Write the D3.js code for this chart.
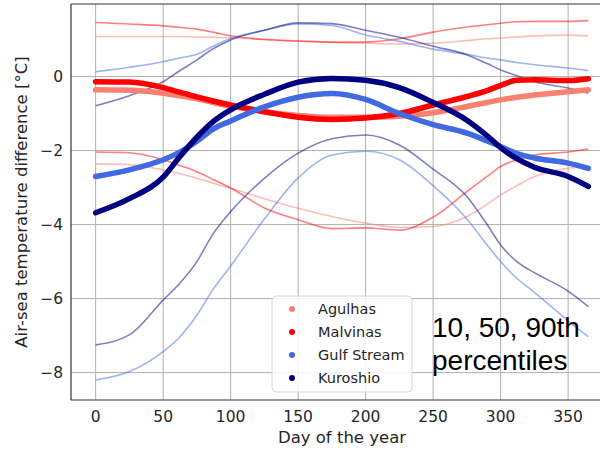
<!DOCTYPE html>
<html>
<head>
<meta charset="utf-8">
<script src="https://cdn.jsdelivr.net/npm/d3@7"></script>
<style>
  html, body { margin: 0; padding: 0; background: #fff; }
  svg { display: block; }
</style>
</head>
<body>
<svg id="chart" width="600" height="450"></svg>
<script>
// Day of the year at which each series is sampled
const days = [0, 25, 50, 62, 75, 87, 100, 125, 150, 175, 200, 225, 250, 275, 290, 300, 312, 325, 350, 365];

// Air-sea temperature difference [°C]: 10th, 50th and 90th percentiles per region
const agulhasP10 = [-2.36, -2.38, -2.52, -2.62, -2.75, -2.88, -3.02, -3.30, -3.56, -3.78, -3.96, -4.08, -4.05, -3.78, -3.45, -3.20, -2.95, -2.70, -2.48, -2.43];
const agulhasP50 = [-0.36, -0.37, -0.45, -0.52, -0.60, -0.70, -0.80, -0.95, -1.05, -1.10, -1.10, -1.07, -0.98, -0.81, -0.70, -0.63, -0.56, -0.50, -0.41, -0.36];
const agulhasP90 = [1.08, 1.08, 1.08, 1.08, 1.07, 1.06, 1.05, 1.00, 0.96, 0.92, 0.90, 0.88, 0.90, 0.97, 1.02, 1.04, 1.07, 1.10, 1.12, 1.10];

const malvinasP10 = [-2.04, -2.06, -2.25, -2.40, -2.57, -2.78, -3.01, -3.55, -3.87, -4.11, -4.09, -4.15, -3.80, -3.11, -2.70, -2.43, -2.25, -2.12, -2.04, -1.96];
const malvinasP50 = [-0.14, -0.15, -0.30, -0.42, -0.55, -0.66, -0.77, -0.95, -1.10, -1.16, -1.12, -1.00, -0.77, -0.54, -0.38, -0.24, -0.10, -0.09, -0.11, -0.06];
const malvinasP90 = [1.46, 1.42, 1.37, 1.33, 1.28, 1.20, 1.10, 1.00, 0.96, 0.93, 0.93, 1.02, 1.20, 1.34, 1.40, 1.44, 1.48, 1.49, 1.49, 1.51];

const gulfP10 = [-8.20, -7.97, -7.43, -7.05, -6.45, -5.75, -5.12, -3.85, -2.74, -2.12, -2.02, -2.25, -2.95, -3.85, -4.55, -5.00, -5.45, -5.83, -6.60, -7.03];
const gulfP50 = [-2.70, -2.52, -2.25, -2.05, -1.75, -1.42, -1.20, -0.82, -0.56, -0.46, -0.62, -1.00, -1.30, -1.53, -1.74, -1.89, -2.08, -2.20, -2.34, -2.48];
const gulfP90 = [0.13, 0.25, 0.40, 0.50, 0.60, 0.82, 1.03, 1.25, 1.42, 1.38, 1.12, 0.95, 0.74, 0.60, 0.50, 0.45, 0.38, 0.32, 0.23, 0.16];

const kuroshioP10 = [-7.25, -6.98, -6.04, -5.60, -5.00, -4.25, -3.65, -2.75, -2.07, -1.68, -1.58, -1.85, -2.50, -3.24, -4.00, -4.55, -5.00, -5.30, -5.80, -6.22];
const kuroshioP50 = [-3.68, -3.30, -2.72, -2.18, -1.64, -1.22, -0.90, -0.48, -0.15, -0.05, -0.10, -0.30, -0.70, -1.18, -1.60, -1.92, -2.22, -2.45, -2.70, -2.97];
const kuroshioP90 = [-0.79, -0.52, -0.14, 0.15, 0.45, 0.75, 0.99, 1.25, 1.45, 1.43, 1.25, 1.06, 0.82, 0.59, 0.35, 0.18, 0.02, -0.14, -0.31, -0.45];

const regions = ["Agulhas", "Malvinas", "Gulf Stream", "Kuroshio"];
const regionColors = ["salmon", "red", "royalblue", "navy"];
const medians = [agulhasP50, malvinasP50, gulfP50, kuroshioP50];
const lowers = [agulhasP10, malvinasP10, gulfP10, kuroshioP10];
const uppers = [agulhasP90, malvinasP90, gulfP90, kuroshioP90];

const xTicks = [0, 50, 100, 150, 200, 250, 300, 350];
const yTicks = [-8, -6, -4, -2, 0];

const svg = d3.select("#chart");
const plotLeft = 71, plotRight = 613, plotTop = 4, plotBottom = 400;

const x = d3.scaleLinear().domain([-18.25, 383.25]).range([plotLeft, plotRight]);
const y = d3.scaleLinear().domain([-8.74, 1.96]).range([plotBottom, plotTop]);

// Grid
const grid = svg.append("g");
grid.selectAll(".gx").data(xTicks).join("line")
  .attr("x1", d => x(d)).attr("x2", d => x(d))
  .attr("y1", plotTop).attr("y2", plotBottom)
  .attr("stroke", "#b0b0b0").attr("stroke-width", 1);
grid.selectAll(".gy").data(yTicks).join("line")
  .attr("x1", plotLeft).attr("x2", plotRight)
  .attr("y1", d => y(d)).attr("y2", d => y(d))
  .attr("stroke", "#b0b0b0").attr("stroke-width", 1);

const line = d3.line()
  .x((d, i) => x(days[i]))
  .y(d => y(d))
  .curve(d3.curveMonotoneX);

// Percentile envelopes (thin, translucent)
const thin = svg.append("g");
regions.forEach((r, k) => {
  [lowers[k], uppers[k]].forEach(series => {
    thin.append("path")
      .attr("d", line(series))
      .attr("fill", "none")
      .attr("stroke", regionColors[k])
      .attr("stroke-opacity", 0.5)
      .attr("stroke-width", 1.6);
  });
});

// Medians (thick)
const thick = svg.append("g");
regions.forEach((r, k) => {
  thick.append("path")
    .attr("d", line(medians[k]))
    .attr("fill", "none")
    .attr("stroke", regionColors[k])
    .attr("stroke-width", 5.5)
    .attr("stroke-linecap", "round")
    .attr("stroke-linejoin", "round");
});

// Spines
svg.append("line").attr("x1", plotLeft).attr("x2", plotLeft).attr("y1", plotTop).attr("y2", plotBottom)
  .attr("stroke", "#333").attr("stroke-width", 1.2);
svg.append("line").attr("x1", plotLeft).attr("x2", plotRight).attr("y1", plotBottom).attr("y2", plotBottom)
  .attr("stroke", "#333").attr("stroke-width", 1.2);
svg.append("line").attr("x1", plotLeft).attr("x2", plotRight).attr("y1", plotTop).attr("y2", plotTop)
  .attr("stroke", "#333").attr("stroke-width", 1.2);

// Tick labels
const tickFont = "DejaVu Sans, sans-serif";
svg.append("g").selectAll("text").data(xTicks).join("text")
  .attr("x", d => x(d)).attr("y", 422)
  .attr("text-anchor", "middle")
  .attr("font-family", tickFont).attr("font-size", 15.5).attr("fill", "#262626")
  .text(d => d);
svg.append("g").selectAll("text").data(yTicks).join("text")
  .attr("x", 63).attr("y", d => y(d))
  .attr("dy", "0.36em")
  .attr("text-anchor", "end")
  .attr("font-family", tickFont).attr("font-size", 15.5).attr("fill", "#262626")
  .text(d => d === 0 ? "0" : "\u2212" + Math.abs(d));

// Axis labels
svg.append("text")
  .attr("x", (plotLeft + plotRight) / 2).attr("y", 443)
  .attr("text-anchor", "middle")
  .attr("font-family", tickFont).attr("font-size", 16.5).attr("fill", "#262626")
  .text("Day of the year");
svg.append("text")
  .attr("transform", `translate(27, ${(plotTop + plotBottom) / 2}) rotate(-90)`)
  .attr("text-anchor", "middle")
  .attr("font-family", tickFont).attr("font-size", 16.5).attr("fill", "#262626")
  .text("Air-sea temperature difference [°C]");

// Legend
const lg = svg.append("g");
lg.append("rect")
  .attr("x", 272).attr("y", 296).attr("width", 140).attr("height", 96).attr("rx", 4)
  .attr("fill", "white").attr("fill-opacity", 0.85)
  .attr("stroke", "#d6d6d6").attr("stroke-width", 1);
regions.forEach((r, k) => {
  const cy = 309 + k * 23;
  lg.append("circle").attr("cx", 292).attr("cy", cy).attr("r", 3)
    .attr("fill", regionColors[k]);
  lg.append("text").attr("x", 318).attr("y", cy).attr("dy", "0.36em")
    .attr("font-family", tickFont).attr("font-size", 14.5).attr("fill", "#262626")
    .text(r);
});

// Annotation
const note = svg.append("text")
  .attr("font-family", "Liberation Sans, Arial, sans-serif")
  .attr("font-size", 28).attr("fill", "#000");
note.append("tspan").attr("x", 432).attr("y", 337).text("10, 50, 90th");
note.append("tspan").attr("x", 432).attr("y", 370).text("percentiles");
</script>
</body>
</html>
